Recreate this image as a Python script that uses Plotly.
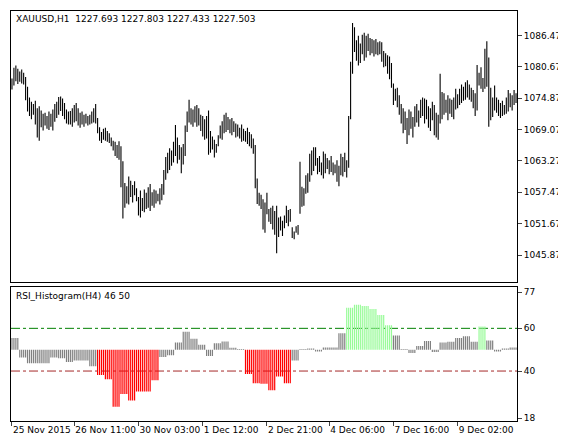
import plotly.graph_objects as go

highs = [
1078.5,1080.5,1080.9,1080.3,1079.8,1080.2,1079.6,1078.8,1077.0,1075.0,
1074.2,1073.8,1074.4,1073.0,1073.4,1072.6,1072.0,1072.2,1071.6,1072.4,
1072.0,1072.8,1073.8,1074.2,1075.1,1075.2,1074.8,1074.0,1072.8,1072.4,
1072.5,1073.0,1073.6,1074.0,1073.0,1072.2,1072.4,1071.8,1072.0,1071.6,
1071.8,1072.4,1073.0,1073.8,1071.2,1069.5,1068.6,1069.2,1069.4,1068.8,
1068.4,1067.6,1067.0,1066.8,1066.2,1066.9,1066.0,1063.2,1059.2,1058.6,
1060.4,1059.6,1058.8,1059.5,1058.2,1056.6,1057.8,1056.4,1058.0,1057.4,
1058.4,1059.0,1057.5,1058.0,1057.8,1057.2,1058.2,1059.0,1061.6,1064.0,
1064.8,1065.6,1065.2,1066.8,1069.9,1067.6,1066.2,1065.8,1066.4,1069.8,
1072.4,1074.6,1073.0,1072.8,1073.4,1073.6,1073.0,1071.8,1071.6,1071.0,
1071.6,1072.6,1068.8,1067.8,1067.2,1066.4,1068.0,1069.8,1070.6,1071.8,
1072.2,1071.4,1071.0,1071.2,1070.6,1070.2,1070.0,1069.4,1070.0,1069.2,
1068.8,1069.4,1068.6,1068.2,1067.4,1066.2,1060.0,1057.4,1057.0,1056.2,
1055.6,1057.4,1054.4,1054.6,1055.0,1054.0,1055.0,1052.8,1053.0,1052.2,
1053.2,1055.0,1054.2,1054.4,1051.0,1050.2,1051.2,1051.4,1063.1,1058.5,
1058.2,1060.6,1061.0,1064.6,1065.2,1065.8,1065.8,1063.8,1064.2,1063.0,
1065.0,1064.6,1063.8,1063.4,1064.2,1063.0,1062.6,1063.4,1062.4,1064.6,
1064.0,1064.8,1063.4,1071.6,1081.6,1088.8,1088.0,1085.6,1086.4,1085.0,
1086.6,1087.0,1086.4,1086.8,1086.0,1085.8,1085.6,1085.8,1085.2,1085.4,
1085.2,1083.6,1083.2,1082.8,1082.6,1081.4,1077.6,1076.6,1076.8,1075.4,
1073.8,1073.0,1072.4,1071.2,1072.8,1072.4,1071.4,1073.4,1073.8,1072.6,
1074.6,1075.0,1074.8,1074.6,1073.4,1073.0,1074.2,1073.6,1072.2,1071.8,
1079.4,1076.0,1075.8,1074.6,1075.4,1074.8,1074.6,1075.0,1076.6,1075.6,
1076.6,1077.4,1077.0,1077.8,1078.2,1077.4,1076.8,1076.4,1075.8,1081.0,
1079.6,1080.6,1078.6,1084.0,1085.4,1082.4,1076.8,1075.0,1077.2,1075.0,
1074.6,1074.0,1074.4,1073.6,1075.0,1076.4,1075.8,1075.4,1076.4,1075.8]

lows = [
1076.5,1077.2,1078.0,1077.5,1077.9,1077.6,1077.4,1074.5,1072.4,1071.6,
1071.0,1071.8,1070.0,1067.6,1067.0,1069.5,1068.9,1069.8,1069.2,1069.0,
1069.6,1068.9,1070.5,1071.2,1071.8,1072.5,1071.6,1071.0,1070.2,1070.0,
1070.0,1069.6,1070.4,1070.6,1069.8,1069.4,1070.0,1069.6,1070.2,1069.8,
1070.0,1070.2,1070.4,1070.2,1068.4,1067.0,1066.6,1067.2,1067.0,1066.8,
1066.6,1066.0,1065.2,1064.2,1063.8,1063.5,1058.4,1052.6,1054.6,1055.4,
1055.2,1056.6,1055.6,1056.9,1055.8,1053.2,1052.8,1054.0,1053.8,1054.4,
1054.6,1054.0,1055.0,1054.6,1055.4,1055.8,1055.2,1056.0,1057.0,1059.8,
1061.0,1061.6,1062.4,1063.0,1064.2,1062.8,1063.5,1061.0,1062.6,1064.2,
1068.6,1070.4,1070.0,1069.6,1070.4,1069.6,1069.8,1068.8,1067.8,1067.2,
1067.4,1064.4,1064.8,1065.4,1063.9,1064.8,1066.0,1067.4,1067.2,1068.4,
1068.6,1069.0,1068.4,1068.0,1068.6,1067.6,1067.8,1067.4,1066.8,1067.0,
1066.8,1066.4,1066.0,1065.6,1064.6,1058.2,1055.3,1055.0,1054.4,1050.6,
1050.0,1053.4,1052.0,1051.6,1050.6,1049.6,1046.2,1049.2,1050.4,1049.4,
1050.8,1051.8,1051.2,1052.0,1049.0,1048.8,1050.0,1049.6,1053.5,1054.8,
1055.0,1057.2,1057.4,1059.4,1060.6,1061.4,1062.4,1060.8,1061.2,1060.6,
1060.0,1061.0,1061.8,1060.8,1061.2,1060.6,1061.0,1059.4,1058.6,1060.6,
1060.4,1061.2,1060.2,1062.0,1071.0,1079.4,1083.4,1081.8,1080.9,1081.4,
1083.0,1081.8,1082.4,1083.6,1082.8,1083.2,1082.6,1083.0,1082.8,1083.0,
1081.6,1080.6,1080.8,1079.4,1078.4,1076.8,1073.6,1074.4,1073.2,1071.8,
1070.2,1068.4,1069.0,1066.4,1068.0,1069.2,1067.6,1069.6,1070.4,1069.6,
1071.2,1071.6,1070.2,1071.0,1069.4,1068.8,1070.8,1068.0,1067.6,1067.2,
1070.2,1071.0,1071.8,1072.2,1070.8,1072.0,1071.4,1071.0,1072.8,1073.0,
1073.6,1074.0,1074.4,1074.6,1075.0,1074.6,1074.2,1073.0,1071.6,1072.6,
1077.2,1076.6,1076.0,1076.6,1077.0,1069.6,1070.8,1071.4,1072.6,1072.2,
1071.6,1071.2,1071.6,1071.8,1072.0,1072.4,1073.2,1072.6,1073.6,1074.0]

# RSI values on H4 (each H4 value spans 4 H1 bars)
rsi_h4 = [55.5,46.3,43.6,43.6,43.6,46.3,46.0,44.2,44.9,44.9,
          42.3,38.2,36.1,23.3,29.3,26.2,30.4,30.4,35.7,46.6,
          47.4,53.4,58.4,55.1,52.3,47.0,53.0,53.8,50.9,50.3,
          38.6,34.3,34.0,31.0,37.4,34.3,44.9,50.3,50.5,49.2,
          51.0,51.0,57.7,69.6,71.1,70.5,69.0,66.2,61.4,56.7,
          50.3,48.4,51.7,54.1,48.9,53.4,53.7,55.5,56.3,53.7,
          60.9,54.3,49.2,50.6,51.0]

tick_idx = [0, 32, 65, 98, 131, 163, 196, 229]
tick_text = ["25 Nov 2015", "26 Nov 11:00", "30 Nov 03:00", "1 Dec 12:00",
             "2 Dec 21:00", "4 Dec 06:00", "7 Dec 16:00", "9 Dec 02:00"]
price_ticks = [1045.87, 1051.67, 1057.47, 1063.27, 1069.07, 1074.87, 1080.67, 1086.47]
rsi_ticks = [18, 40, 60, 77]
upper, lower, mid = 60, 40, 50

n = len(highs)
xs, ys = [], []
for i in range(n):
    xs += [i, i, None]
    ys += [lows[i], highs[i], None]

rsi = []
for v in rsi_h4:
    rsi += [v] * 4
rsi = rsi[:n]

groups = {"#808080": ([], []), "#ff0000": ([], []), "#98fb98": ([], [])}
for i, v in enumerate(rsi):
    c = "#ff0000" if v < lower else ("#98fb98" if v > upper else "#808080")
    gx, gy = groups[c]
    gx += [i, i, None]
    gy += [mid, v, None]

fig = go.Figure()
fig.add_trace(go.Scatter(x=xs, y=ys, mode="lines", line=dict(color="black", width=1.1),
                         xaxis="x", yaxis="y", hoverinfo="skip"))
for c, (gx, gy) in groups.items():
    fig.add_trace(go.Scatter(x=gx, y=gy, mode="lines", line=dict(color=c, width=1.2),
                             xaxis="x2", yaxis="y2", hoverinfo="skip"))
for lvl, c in [(upper, "#008000"), (lower, "#a52a2a")]:
    fig.add_shape(type="line", xref="x2", yref="y2", x0=-0.5, x1=n - 0.5, y0=lvl, y1=lvl,
                  line=dict(color=c, width=1, dash="dashdot"), layer="below")

font = dict(family="DejaVu Sans", size=9, color="black")
ax_common = dict(showgrid=False, zeroline=False, showline=True, linecolor="black",
                 linewidth=1, mirror=True)
fig.update_layout(
    width=566, height=442, margin=dict(l=3, r=57, t=3, b=29),
    paper_bgcolor="white", plot_bgcolor="white", showlegend=False,
    font=font,
    xaxis=dict(domain=[0, 1], range=[-0.5, n - 0.5], showticklabels=False, ticks="",
               anchor="y", **ax_common),
    xaxis2=dict(domain=[0, 1], range=[-0.5, n - 0.5], tickvals=tick_idx, ticktext=tick_text,
                ticks="outside", ticklen=4, tickangle=0, ticklabelposition="outside right",
                anchor="y2", **ax_common),
    yaxis=dict(domain=[0.338, 1], range=[1040.8, 1091.0], side="right",
               tickvals=price_ticks, ticktext=[f"{v:.3f}" for v in price_ticks],
               ticks="outside", ticklen=4, anchor="x", **ax_common),
    yaxis2=dict(domain=[0, 0.326], range=[16.6, 79.2], side="right", tickvals=rsi_ticks,
                ticks="outside", ticklen=4, anchor="x2", **ax_common),
    annotations=[
        dict(text="XAUUSD,H1  1227.693 1227.803 1227.433 1227.503", xref="paper", yref="paper",
             x=0.005, y=0.997, xanchor="left", yanchor="top", showarrow=False, font=font),
        dict(text="RSI_Histogram(H4) 46 50", xref="paper", yref="paper",
             x=0.005, y=0.322, xanchor="left", yanchor="top", showarrow=False, font=font),
    ],
)
fig.write_html("out.html")
